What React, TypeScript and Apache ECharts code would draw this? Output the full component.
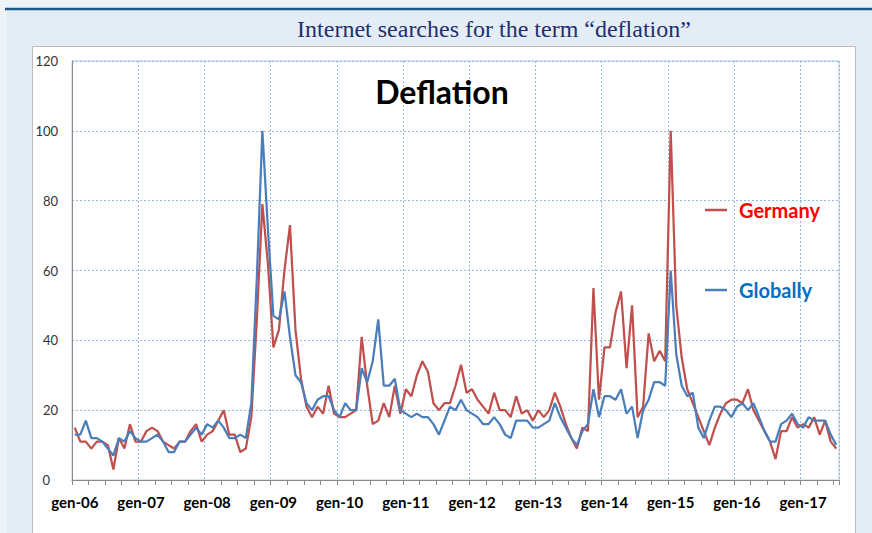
import React, { useEffect, useRef } from "react";
import * as echarts from "echarts";

const monthNames = ["gen", "feb", "mar", "apr", "mag", "giu", "lug", "ago", "set", "ott", "nov", "dic"];
const yearSuffixes = ["06", "07", "08", "09", "10", "11", "12", "13", "14", "15", "16", "17"];

const germany = [
  15, 11, 11, 9, 11, 11, 10, 3, 12, 9, 16, 11,
  11, 14, 15, 14, 11, 10, 9, 11, 11, 14, 16, 11,
  13, 14, 17, 20, 13, 13, 8, 9, 18, 46, 79, 62,
  38, 43, 60, 73, 43, 29, 21, 18, 21, 19, 27, 19,
  18, 18, 19, 20, 41, 27, 16, 17, 22, 18, 27, 19,
  26, 24, 30, 34, 31, 22, 20, 22, 22, 27, 33, 25,
  26, 23, 21, 19, 25, 20, 20, 18, 24, 19, 20, 17,
  20, 18, 20, 25, 21, 16, 12, 9, 15, 14, 55, 23,
  38, 38, 48, 54, 32, 50, 18, 21, 42, 34, 37, 34,
  100, 50, 35, 26, 22, 18, 14, 10, 15, 19, 22, 23,
  23, 22, 26, 20, 17, 14, 11, 6, 14, 14, 18, 15,
  16, 15, 18, 13, 17, 11, 9,
];

const globally = [
  13, 13, 17, 12, 12, 11, 9, 7, 12, 11, 14, 12,
  11, 11, 12, 13, 11, 8, 8, 11, 11, 13, 15, 13,
  16, 15, 17, 15, 12, 12, 13, 12, 22, 58, 100, 72,
  47, 46, 54, 41, 30, 28, 22, 20, 23, 24, 24, 20,
  18, 22, 20, 20, 32, 28, 34, 46, 27, 27, 29, 20,
  19, 18, 19, 18, 18, 16, 13, 17, 21, 20, 23, 20,
  19, 18, 16, 16, 18, 16, 13, 12, 17, 17, 17, 15,
  15, 16, 17, 22, 18, 15, 12, 10, 14, 16, 26, 18,
  24, 24, 23, 26, 19, 21, 12, 20, 23, 28, 28, 27,
  60, 36, 27, 24, 25, 15, 12, 17, 21, 21, 20, 18,
  21, 22, 20, 22, 18, 14, 11, 11, 16, 17, 19, 16,
  15, 18, 17, 17, 17, 13, 10,
];

const chartTitle = "Internet searches for the term \u201cdeflation\u201d";
const insetTitle = "Deflation";

export default function App() {
  const ref = useRef<HTMLDivElement>(null);

  useEffect(() => {
    if (!ref.current) return;
    const chart = echarts.init(ref.current, null, { renderer: "svg" });
    const categories = yearSuffixes
      .flatMap((y) => monthNames.map((m) => `${m}-${y}`))
      .slice(0, germany.length);

    const gridColor = "#9ab7da";
    const axisColor = "#8a8a8a";

    chart.setOption({
      animation: false,
      backgroundColor: "#e4edf5",
      graphic: {
        elements: [
          { type: "rect", shape: { x: 0, y: 0, width: 872, height: 8 }, style: { fill: "#eef3f8" }, z: -20 },
          { type: "rect", shape: { x: 0, y: 8, width: 7, height: 525 }, style: { fill: "#eef3f8" }, z: -20 },
          { type: "line", shape: { x1: 5, y1: 9, x2: 872, y2: 9 }, style: { stroke: "#1d5b85", lineWidth: 2.5 }, z: -10 },
          {
            type: "rect",
            shape: { x: 32.5, y: 46.5, width: 823, height: 500 },
            style: { fill: "#ffffff", stroke: "#bcbcbc", lineWidth: 1 },
            z: -10,
          },
          {
            type: "text",
            x: 494,
            y: 29,
            style: {
              text: chartTitle,
              fontFamily: "Liberation Serif",
              fontSize: 24,
              fill: "#1f3070",
              textAlign: "center",
              textVerticalAlign: "middle",
            },
            z: 10,
          },
          {
            type: "text",
            x: 442,
            y: 91,
            style: {
              text: insetTitle,
              fontFamily: "Lato",
              fontWeight: "bold",
              fontSize: 32,
              fill: "#000000",
              textAlign: "center",
              textVerticalAlign: "middle",
            },
            z: 10,
          },
        ],
      },
      legend: [
        {
          data: [{ name: "Germany", textStyle: { color: "#ff0000" } }],
          left: 705,
          top: 198,
          orient: "vertical",
          icon: "rect",
          itemWidth: 22,
          itemHeight: 2.5,
          padding: 0,
          selectedMode: false,
          textStyle: { fontFamily: "Lato", fontWeight: "bold", fontSize: 20, lineHeight: 24, padding: [0, 0, 0, 7] },
        },
        {
          data: [{ name: "Globally", textStyle: { color: "#0070c0" } }],
          left: 705,
          top: 278,
          orient: "vertical",
          icon: "rect",
          itemWidth: 22,
          itemHeight: 2.5,
          padding: 0,
          selectedMode: false,
          textStyle: { fontFamily: "Lato", fontWeight: "bold", fontSize: 20, lineHeight: 24, padding: [0, 0, 0, 7] },
        },
      ],
      grid: {
        left: 72,
        right: 33,
        top: 61,
        bottom: 53,
        show: true,
        borderColor: "#b3cbe4",
        borderWidth: 1,
        backgroundColor: "transparent",
      },
      xAxis: {
        type: "category",
        data: categories,
        boundaryGap: true,
        axisLine: { lineStyle: { color: axisColor, width: 1 } },
        axisTick: { show: true, interval: (i: number) => i % 3 === 0, length: 5, lineStyle: { color: axisColor } },
        axisLabel: {
          interval: (i: number) => i % 12 === 0,
          fontFamily: "Lato",
          fontWeight: "bold",
          fontSize: 15,
          color: "#000000",
          margin: 14,
        },
        splitLine: {
          show: true,
          interval: (i: number) => i % 12 === 0,
          lineStyle: { color: gridColor, type: [2, 2], width: 1 },
        },
      },
      yAxis: {
        type: "value",
        min: 0,
        max: 120,
        interval: 20,
        axisLine: { show: true, lineStyle: { color: axisColor, width: 1 } },
        axisTick: { show: false },
        axisLabel: {
          fontFamily: "Lato",
          fontSize: 13,
          color: "#333333",
          margin: 14,
          formatter: (v: number) => (v === 0 ? "{z|0}" : String(v)),
          rich: { z: { fontFamily: "Lato", fontSize: 13, color: "#333333", padding: [0, 8, 0, 0] } },
        },
        splitLine: { show: true, lineStyle: { color: gridColor, type: [2, 2], width: 1 } },
      },
      series: [
        {
          name: "Germany",
          type: "line",
          data: germany,
          showSymbol: false,
          symbol: "none",
          lineStyle: { color: "#c0504d", width: 2.25 },
          itemStyle: { color: "#c0504d" },
        },
        {
          name: "Globally",
          type: "line",
          data: globally,
          showSymbol: false,
          symbol: "none",
          lineStyle: { color: "#4a7ebb", width: 2.25 },
          itemStyle: { color: "#4a7ebb" },
        },
      ],
    });

    return () => chart.dispose();
  }, []);

  return <div ref={ref} style={{ position: "fixed", left: 0, top: 0, width: 872, height: 533 }} />;
}
